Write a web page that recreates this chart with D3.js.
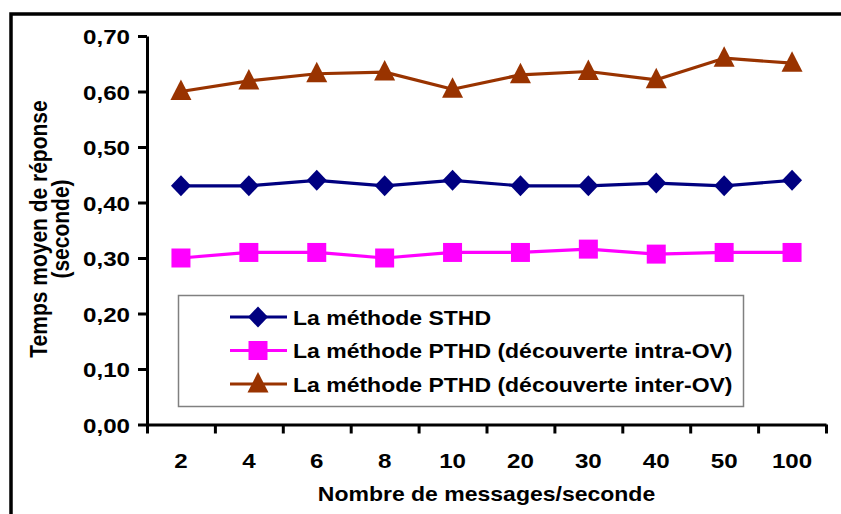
<!DOCTYPE html>
<html>
<head>
<meta charset="utf-8">
<script src="https://cdn.jsdelivr.net/npm/d3@7/dist/d3.min.js"></script>
<style>
  html, body { margin: 0; padding: 0; background: #fff; }
  svg { display: block; }
  text { font-family: "Liberation Sans", Arial, sans-serif; font-weight: bold; fill: #000; }
</style>
</head>
<body>
<svg id="chart" width="841" height="514"></svg>
<script>
// Categories (messages per second)
const categories = ["2", "4", "6", "8", "10", "20", "30", "40", "50", "100"];

// Mean response time (seconds) for each method
const sthd      = [0.43, 0.43, 0.44, 0.43, 0.44, 0.43, 0.43, 0.435, 0.43, 0.44];
const pthdIntra = [0.30, 0.31, 0.31, 0.30, 0.31, 0.31, 0.316, 0.307, 0.31, 0.31];
const pthdInter = [0.60, 0.619, 0.632, 0.635, 0.604, 0.63, 0.636, 0.621, 0.66, 0.651];

const yTicks = [0, 0.1, 0.2, 0.3, 0.4, 0.5, 0.6, 0.7];

const seriesNames = [
  "La méthode STHD",
  "La méthode PTHD (découverte intra-OV)",
  "La méthode PTHD (découverte inter-OV)"
];
const seriesColors = ["#000080", "#FF00FF", "#993300"];
const seriesShapes = ["diamond", "square", "triangle"];

const series = [sthd, pthdIntra, pthdInter].map((values, i) => ({
  name: seriesNames[i], color: seriesColors[i], shape: seriesShapes[i], values
}));

const svg = d3.select("#chart");

// Outer frame (partly cut by the page edges)
svg.append("rect")
  .attr("x", 11).attr("y", 14)
  .attr("width", 900).attr("height", 600)
  .attr("fill", "none").attr("stroke", "#000").attr("stroke-width", 3.5);

const plot = { left: 147, right: 826, top: 36, bottom: 424.5 };

const x = d3.scaleBand().domain(categories).range([plot.left, plot.right]).padding(0);
const xEdges = d3.scaleLinear().domain([0, categories.length]).range([plot.left, plot.right]);
const y = d3.scaleLinear().domain([0, 0.7]).range([plot.bottom, plot.top]);

const fr = d3.formatLocale({ decimal: ",", thousands: " ", grouping: [3], currency: ["", " €"] });
const fmt = fr.format(".2f");

// Horizontal stretch applied to glyphs
const SX = 1.15;

// Y axis
const yAxis = svg.append("g")
  .attr("transform", `translate(${plot.left},0)`)
  .call(d3.axisLeft(y).tickValues(yTicks).tickFormat(fmt).tickSize(9).tickSizeOuter(0).tickPadding(8));
yAxis.select(".domain").attr("stroke", "#000").attr("stroke-width", 3);
yAxis.selectAll(".tick line").attr("stroke", "#000").attr("stroke-width", 3);
yAxis.selectAll(".tick text")
  .attr("font-size", 21).attr("font-family", null).attr("fill", "#000")
  .attr("dy", "0.36em")
  .each(function () {
    const t = d3.select(this);
    const xx = +t.attr("x");
    t.attr("x", null).attr("transform", `translate(${xx},0) scale(${SX},1)`);
  });

// X axis: labels centred in each category
const xAxis = svg.append("g")
  .attr("transform", `translate(0,${plot.bottom})`)
  .call(d3.axisBottom(x).tickSize(0).tickPadding(0).tickSizeOuter(0));
xAxis.select(".domain").remove();
xAxis.selectAll(".tick text")
  .attr("font-size", 21).attr("font-family", null).attr("fill", "#000")
  .attr("y", null).attr("dy", null)
  .attr("transform", `translate(0,43) scale(${SX},1)`);

// X axis: line and tick marks at category boundaries
const xEdgeAxis = svg.append("g")
  .attr("transform", `translate(0,${plot.bottom})`)
  .call(d3.axisBottom(xEdges).ticks(categories.length).tickFormat("").tickSize(9).tickSizeOuter(0));
xEdgeAxis.select(".domain").attr("stroke", "#000").attr("stroke-width", 3);
xEdgeAxis.selectAll(".tick line").attr("stroke", "#000").attr("stroke-width", 3);

// Axis titles
svg.append("text")
  .attr("text-anchor", "middle").attr("font-size", 20)
  .attr("transform", `translate(${(plot.left + plot.right) / 2},501) scale(${SX},1)`)
  .text("Nombre de messages/seconde");

const yTitle = svg.append("g")
  .attr("transform", `translate(0,229) rotate(-90)`);
yTitle.append("text")
  .attr("text-anchor", "middle").attr("font-size", 21)
  .attr("transform", `translate(0,47) scale(1,${SX})`)
  .text("Temps moyen de réponse");
yTitle.append("text")
  .attr("text-anchor", "middle").attr("font-size", 21)
  .attr("transform", `translate(0,69) scale(1,${SX})`)
  .text("(seconde)");

// Marker shapes
function markerPath(shape) {
  if (shape === "diamond") return "M0,-10.5L10,0L0,10.5L-10,0Z";
  if (shape === "square") return "M-9.5,-9.5L9.5,-9.5L9.5,9.5L-9.5,9.5Z";
  return "M0,-12L10.5,8.5L-10.5,8.5Z";
}

const cx = d => x(d) + x.bandwidth() / 2;
const line = d3.line().x((d, i) => cx(categories[i])).y(d => y(d));

// Series lines and markers
series.forEach(s => {
  const g = svg.append("g");
  g.append("path")
    .datum(s.values)
    .attr("d", line)
    .attr("fill", "none").attr("stroke", s.color).attr("stroke-width", 3.2)
    .attr("stroke-linejoin", "round");
  g.selectAll("path.marker")
    .data(s.values)
    .join("path")
    .attr("class", "marker")
    .attr("d", markerPath(s.shape))
    .attr("transform", (d, i) => `translate(${cx(categories[i])},${y(d)})`)
    .attr("fill", s.color);
});

// Legend
const legend = svg.append("g");
legend.append("rect")
  .attr("x", 178.5).attr("y", 295.5).attr("width", 565).attr("height", 111)
  .attr("fill", "#fff").attr("stroke", "#808080").attr("stroke-width", 1.5);

const rowY = d3.scalePoint().domain(seriesNames).range([317, 384]);
series.forEach(s => {
  const row = legend.append("g").attr("transform", `translate(0,${rowY(s.name)})`);
  row.append("line")
    .attr("x1", 230).attr("x2", 287).attr("y1", 0).attr("y2", 0)
    .attr("stroke", s.color).attr("stroke-width", 3.2);
  row.append("path")
    .attr("d", markerPath(s.shape))
    .attr("transform", "translate(258,0)")
    .attr("fill", s.color);
  row.append("text")
    .attr("font-size", 20)
    .attr("transform", `translate(293,7.5) scale(${SX},1)`)
    .text(s.name);
});
</script>
</body>
</html>
